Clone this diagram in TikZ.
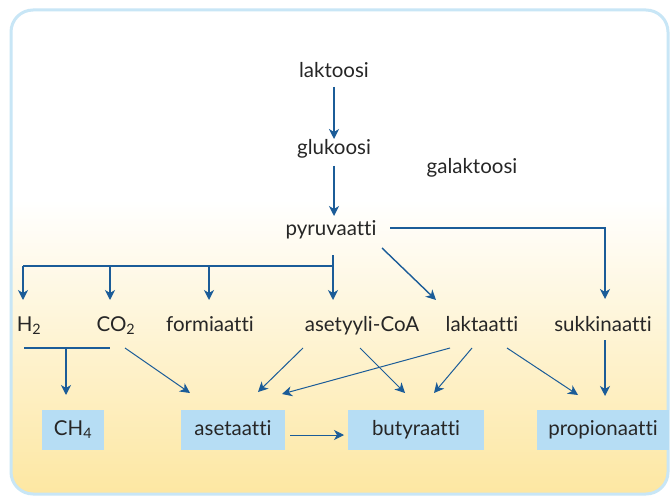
\documentclass[tikz,border=0pt]{standalone}
\usepackage{fontspec}
\setmainfont{Lato}[Ligatures=NoCommon]
\usetikzlibrary{arrows.meta}

\definecolor{arrowblue}{HTML}{1B5C98}
\definecolor{boxblue}{HTML}{B6DDF4}
\definecolor{frameblue}{HTML}{C8E6F6}
\definecolor{bgyellow}{HTML}{FDE7A2}

\begin{document}
\begin{tikzpicture}[x=1pt,y=-1pt]
    \tikzset{every node/.style={font=\fontsize{20.5}{23}\selectfont,text=black!85,inner sep=0pt}}
    \tikzset{lbl/.style={text height=14pt,text depth=4pt}}
    \tikzset{box/.style={fill=boxblue,minimum height=40pt,text height=14pt,text depth=4pt}}
    \tikzset{arr/.style={draw=arrowblue,line width=1.4pt,-{Stealth[length=10pt,width=10pt,inset=3pt]}}}
    \tikzset{thinarr/.style={draw=arrowblue,line width=1pt,-{Stealth[length=10pt,width=10pt,inset=3pt]}}}
    \tikzset{bar/.style={draw=arrowblue,line width=1.4pt}}

    % background and frame
    \useasboundingbox (0,0) rectangle (671,497);
    \fill[white] (0,0) rectangle (671,497);
    \begin{scope}
        \clip[rounded corners=22pt] (11,10) rectangle (668,494);
        \fill[white] (0,0) rectangle (671,200);
        \shade[top color=white,bottom color=bgyellow] (0,200) rectangle (671,494);
    \end{scope}
    \draw[frameblue,line width=3pt,rounded corners=22pt] (11,10) rectangle (668,494);

    % sugars and intermediates
    \node[lbl] (lak) at (334,73) {laktoosi};
    \node[lbl] (glu) at (334,150) {glukoosi};
    \node[lbl] (gal) at (472,168) {galaktoosi};
    \node[lbl] (pyr) at (331,230) {pyruvaatti};

    \node[lbl] (h2) at (29,326) {H\textsubscript{2}};
    \node[lbl] (co2) at (116,326) {CO\textsubscript{2}};
    \node[lbl] (form) at (210,326) {formiaatti};
    \node[lbl] (acoa) at (362,326) {asetyyli-CoA};
    \node[lbl] (lakt) at (482,326) {laktaatti};
    \node[lbl] (suk) at (603,326) {sukkinaatti};

    % end products
    \node[box,minimum width=62pt] (ch4) at (73,430) {CH\textsubscript{4}};
    \node[box,minimum width=104pt] (ase) at (233,430) {asetaatti};
    \node[box,minimum width=136pt] (but) at (416,430) {butyraatti};
    \node[box,minimum width=132pt] (pro) at (603,430) {propionaatti};

    \coordinate (jH) at (23,266);
    \coordinate (jA) at (333,266);
    \coordinate (jM) at (66,348);

    \draw[arr] ([shift={(0,14)}]lak.center) -- ([shift={(0,-11)}]glu.center);
    \draw[arr] ([shift={(0,16)}]glu.center) -- ([shift={(3,-14)}]pyr.center);
    \draw[arr] ([shift={(59,-2)}]pyr.center) -| ([shift={(2,-27)}]suk.center);
    \draw[arr] ([shift={(2,25)}]pyr.center) -- ([shift={(-29,-26)}]acoa.center);
    \draw[arr] ([shift={(51,18)}]pyr.center) -- ([shift={(-46,-26)}]lakt.center);

    \draw[bar] (jH) -- (jA);
    \draw[arr] (jH) -- ([shift={(-6,-26)}]h2.center);
    \draw[arr] ([shift={(-6,-60)}]co2.center) -- ([shift={(-6,-26)}]co2.center);
    \draw[arr] ([shift={(-1,-60)}]form.center) -- ([shift={(-1,-26)}]form.center);

    \draw[bar] ([shift={(-5,22)}]h2.center) -- ([shift={(-6,22)}]co2.center);
    \draw[arr] (jM) -- ([shift={(-7,-35)}]ch4.center);

    \draw[thinarr] ([shift={(9,22)}]co2.center) -- ([shift={(-43,-37)}]ase.center);
    \draw[thinarr] ([shift={(-59,22)}]acoa.center) -- ([shift={(25,-38)}]ase.center);
    \draw[thinarr] ([shift={(-2,22)}]acoa.center) -- ([shift={(-11,-37)}]but.center);
    \draw[thinarr] ([shift={(-32,22)}]lakt.center) -- ([shift={(49,-36)}]ase.center);
    \draw[thinarr] ([shift={(-10,22)}]lakt.center) -- ([shift={(18,-37)}]but.center);
    \draw[thinarr] ([shift={(25,22)}]lakt.center) -- ([shift={(-25,-35)}]pro.center);
    \draw[arr] ([shift={(2,14)}]suk.center) -- ([shift={(2,-34)}]pro.center);
    \draw[thinarr] ([shift={(57,5)}]ase.center) -- ([shift={(-72,5)}]but.center);
\end{tikzpicture}
\end{document}
